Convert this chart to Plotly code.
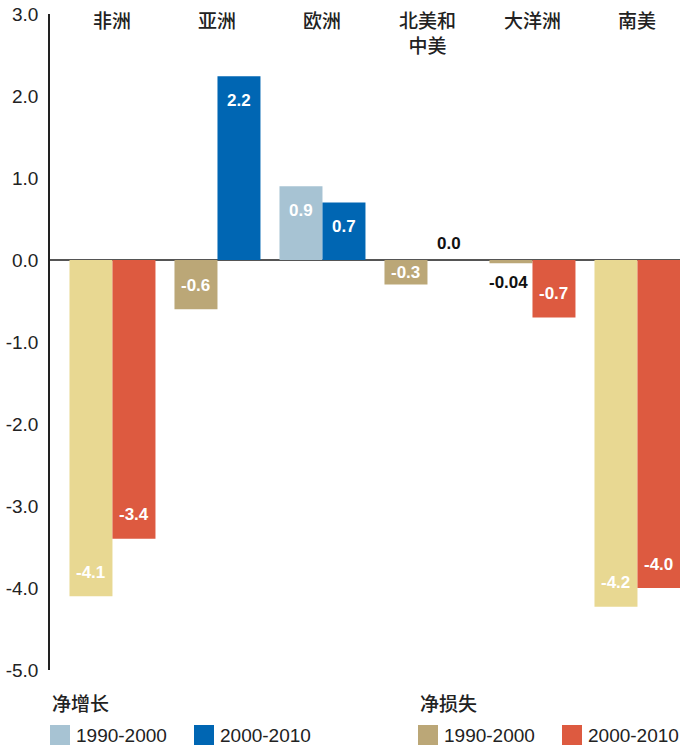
import plotly.graph_objects as go

# ---- data ----
regions = ["非洲", "亚洲", "欧洲", "北美和<br>中美", "大洋洲", "南美"]
v1990 = [-4.1, -0.6, 0.9, -0.3, -0.04, -4.23]
v2000 = [-3.4, 2.24, 0.7, 0.0, -0.7, -4.0]
lab1990 = ["-4.1", "-0.6", "0.9", "-0.3", "-0.04", "-4.2"]
lab2000 = ["-3.4", "2.2", "0.7", "0.0", "-0.7", "-4.0"]
yticks = [3.0, 2.0, 1.0, 0.0, -1.0, -2.0, -3.0, -4.0, -5.0]
ytick_text = ["3.0", "2.0", "1.0", "0.0", "-1.0", "-2.0", "-3.0", "-4.0", "-5.0"]
legend_groups = ["净增长", "净损失"]
legend_items = ["1990-2000", "2000-2010"]

# ---- styles ----
YELLOW = "#E8D892"
TAN = "#BBA777"
LBLUE = "#A7C3D3"
BLUE = "#0066B3"
RED = "#DD5A40"
c1990 = [YELLOW, TAN, LBLUE, TAN, TAN, YELLOW]
c2000 = [RED, BLUE, BLUE, RED, RED, RED]
legend_colors = [[LBLUE, BLUE], [TAN, RED]]

W, H = 691, 747
ML, MR, MT, MB = 50, 11, 14, 77
PW, PH = W - ML - MR, H - MT - MB
idx = list(range(len(regions)))
PX_PER_UNIT = PH / 8.0
HALF = 0.4095 / 2  # half bar width in x units

fig = go.Figure()
fig.add_trace(go.Bar(x=idx, y=v1990, marker=dict(color=c1990, line=dict(width=0)),
                     name="1990-2000", showlegend=False, hoverinfo="y"))
fig.add_trace(go.Bar(x=idx, y=v2000, marker=dict(color=c2000, line=dict(width=0)),
                     name="2000-2010", showlegend=False, hoverinfo="y"))

ann = []
CN = "Noto Sans CJK SC"
NUMF = "Liberation Sans, Arial, sans-serif"

def bar_label(xc, val, txt):
    h = abs(val) * PX_PER_UNIT
    if abs(val) < 0.1:
        if val >= 0:
            ann.append(dict(x=xc, y=val, text=txt, showarrow=False, yshift=17,
                            font=dict(family=NUMF, size=17, color="#111", weight="bold")))
        else:
            ann.append(dict(x=xc, y=val, text=txt, showarrow=False, yshift=-19, xshift=-2,
                            font=dict(family=NUMF, size=17, color="#111", weight="bold")))
        return
    off = min(24, h / 2)
    ann.append(dict(x=xc, y=val, text=txt, showarrow=False,
                    yshift=-off if val > 0 else off,
                    font=dict(family=NUMF, size=17, color="white", weight="bold")))

for i in idx:
    bar_label(i - HALF, v1990[i], lab1990[i])
    bar_label(i + HALF, v2000[i], lab2000[i])
    ann.append(dict(x=i, y=1, xref="x", yref="paper", yanchor="top", yshift=10,
                    text=regions[i], showarrow=False,
                    font=dict(family=CN, size=19, color="#222", weight=500)))

# ---- manual legend (pixel -> paper) ----
def px(xp):
    return (xp - ML) / PW

def py(yp):
    return (H - MB - yp) / PH

shapes = []
group_x = [50, 418]
for g, gx in enumerate(group_x):
    ann.append(dict(x=px(gx), y=py(702), xref="paper", yref="paper", xanchor="left",
                    yanchor="middle", text=legend_groups[g], showarrow=False,
                    font=dict(family=CN, size=19, color="#222", weight=500)))
    for k, item in enumerate(legend_items):
        sx = gx + k * 144
        shapes.append(dict(type="rect", xref="paper", yref="paper",
                           x0=px(sx), x1=px(sx + 20), y0=py(745), y1=py(725),
                           fillcolor=legend_colors[g][k], line=dict(width=0)))
        ann.append(dict(x=px(sx + 24), y=py(735), xref="paper", yref="paper",
                        xanchor="left", yanchor="middle", text=item, showarrow=False,
                        font=dict(family=NUMF, size=19, color="#222")))

fig.update_layout(
    width=W, height=H,
    margin=dict(l=ML, r=MR, t=MT, b=MB, autoexpand=False),
    paper_bgcolor="white", plot_bgcolor="white",
    barmode="group", bargap=0.181, bargroupgap=0,
    xaxis=dict(range=[-0.595, 5.405], showticklabels=False, showgrid=False,
               zeroline=False, showline=False, fixedrange=True, automargin=False),
    yaxis=dict(range=[-5.0, 3.0], tickvals=yticks, ticktext=ytick_text,
               showgrid=False, zeroline=True, zerolinecolor="#555", zerolinewidth=1.5,
               showline=True, linecolor="#222", linewidth=1.5,
               ticks="", ticklabelstandoff=6, automargin=False,
               tickfont=dict(family=NUMF, size=19, color="#222")),
    annotations=ann, shapes=shapes,
    font=dict(family=NUMF),
)

fig.write_html("out.html")
